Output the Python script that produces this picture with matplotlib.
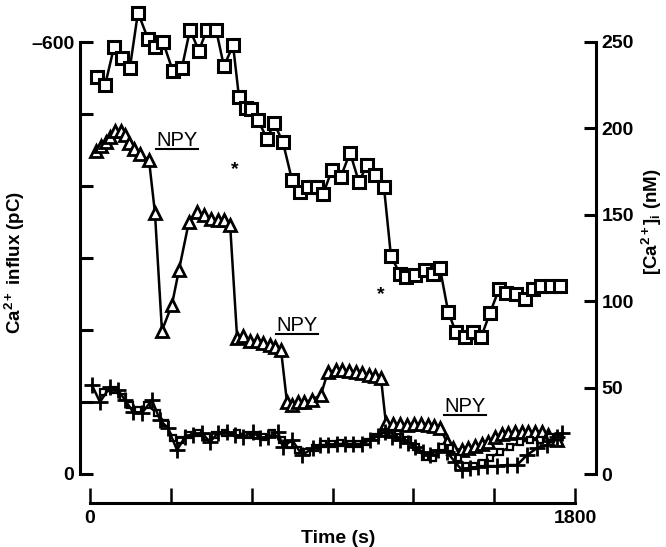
import matplotlib
matplotlib.use("Agg")
import matplotlib.pyplot as plt
from matplotlib.lines import Line2D

plt.rcParams['font.family'] = ['Liberation Sans', 'DejaVu Sans']
plt.rcParams['mathtext.fontset'] = 'custom'
plt.rcParams['mathtext.rm'] = 'Liberation Sans:bold'
plt.rcParams['mathtext.it'] = 'Liberation Sans:bold'
plt.rcParams['mathtext.bf'] = 'Liberation Sans:bold'

# ---- data: [Ca2+]i, squares (nM, right axis) ----
sq_t = [26, 56, 89, 119, 148, 178, 215, 241, 271, 308, 341, 371, 404, 434, 468, 497, 531, 553, 579, 597,
        623, 657, 683, 716, 750, 779, 809, 842, 865, 898, 931, 965, 998, 1028, 1058, 1091, 1117, 1150, 1173, 1206,
        1243, 1273, 1299, 1329, 1358, 1392, 1421, 1451, 1484, 1518, 1544, 1581, 1614, 1644, 1674, 1711, 1744]
sq_nM = [230, 225, 247, 241, 235, 267, 252, 247, 250, 233, 235, 257, 245, 257, 257, 236, 248, 218, 212, 211,
         205, 194, 203, 192, 170, 163, 166, 166, 162, 176, 172, 186, 169, 179, 173, 166, 126, 116, 114, 115,
         118, 116, 119, 94, 82, 79, 82, 79, 93, 107, 105, 104, 101, 107, 109, 109, 109]

# ---- data: Ca2+ influx, triangles (pC, left axis) ----
tri_t = [22, 41, 59, 74, 93, 115, 130, 145, 163, 186, 219, 241, 267, 304, 330, 367, 397, 423, 449, 475,
         497, 520, 546, 568, 594, 620, 642, 668, 687, 709, 731, 750, 772, 794, 824, 857, 883, 913, 935, 961,
         987, 1009, 1035, 1058, 1080, 1098, 1124, 1150, 1176, 1202, 1228, 1254, 1277, 1299, 1325, 1347, 1380,
         1403, 1429, 1455, 1477, 1503, 1529, 1551, 1577, 1603, 1625, 1651, 1677, 1700, 1733]
tri_pC = [-449, -456, -461, -468, -476, -476, -471, -460, -451, -444, -436, -363, -199, -235, -283, -350,
          -364, -360, -354, -353, -353, -346, -189, -192, -185, -185, -182, -179, -176, -172, -100, -96, -100,
          -100, -103, -110, -142, -144, -144, -143, -142, -140, -138, -136, -133, -71, -69, -69, -68, -69, -69,
          -68, -67, -64, -44, -36, -33, -36, -39, -42, -44, -51, -56, -57, -58, -58, -58, -58, -58, -54, -47]

# ---- data: control traces (nM, right axis) ----
plus_t = [7, 37, 74, 104, 130, 160, 193, 230, 260, 289, 323, 353, 382, 416, 445, 475, 508, 538, 568, 605,
          631, 661, 698, 716, 750, 787, 828, 854, 883, 917, 946, 976, 1009, 1039, 1069, 1095, 1121, 1150, 1180,
          1206, 1236, 1262, 1291, 1325, 1355, 1380, 1410, 1440, 1473, 1510, 1548, 1585, 1622, 1659, 1696, 1733, 1752]
plus_nM = [51.5, 41.7, 50.3, 48.6, 42.8, 35.9, 35.3, 42.8, 31.2, 26.6, 13.9, 21.4, 22.6, 23.7, 18.5, 23.7,
           24.3, 22.6, 21.4, 24.3, 20.8, 21.4, 24.3, 15.6, 19.7, 11.0, 15.0, 16.8, 16.8, 17.4, 17.4, 17.4, 17.4,
           19.7, 22.0, 24.3, 21.4, 19.7, 17.9, 15.6, 12.7, 11.0, 13.9, 12.7, 6.9, 2.3, 3.5, 4.1, 4.6, 4.6, 5.2,
           5.2, 11.0, 15.0, 16.8, 21.4, 23.7]

ssq_t = [48, 85, 122, 148, 178, 212, 249, 278, 308, 334, 364, 401, 434, 464, 501, 546, 583, 612, 642, 675,
         712, 742, 772, 805, 835, 865, 898, 928, 965, 995, 1028, 1061, 1091, 1121, 1150, 1180, 1210, 1243, 1273,
         1306, 1336, 1366, 1395, 1425, 1455, 1484, 1522, 1559, 1596, 1633, 1670, 1707, 1737]
ssq_nM = [47.5, 48.6, 44.6, 39.9, 37.0, 39.9, 35.3, 29.5, 20.8, 19.7, 22.6, 23.7, 21.4, 22.6, 23.7, 23.7,
          22.6, 22.6, 21.4, 23.7, 19.7, 16.8, 13.9, 12.7, 15.0, 17.4, 17.4, 17.9, 17.4, 17.4, 18.5, 21.4, 23.7,
          23.7, 21.4, 19.7, 15.6, 9.8, 9.3, 15.6, 15.0, 9.3, 4.6, 4.6, 6.4, 9.3, 12.7, 15.6, 18.5, 19.7, 19.7,
          21.4, 21.4]

left_ticks = [0, -100, -200, -300, -400, -500, -600]
left_labels = ['0', '', '', '', '', '', '\u2013600']
right_ticks = [0, 50, 100, 150, 200, 250]
x_ticks = [0, 300, 600, 900, 1200, 1500, 1800]
x_labels = ['0', '', '', '', '', '', '1800']

W, H = 666, 547
fig = plt.figure(figsize=(W / 100, H / 100), dpi=100)
ax = fig.add_axes([80 / W, 1 - 503 / H, (596 - 80) / W, (503 - 5) / H])
ax2 = ax.twinx()
ax.patch.set_visible(False)

k = 'black'
ax.plot(tri_t, tri_pC, color=k, lw=1.8, marker='^', ms=8, mfc='white', mec=k, mew=2.0, zorder=3)
ax2.plot(ssq_t, ssq_nM, color=k, lw=1.8, marker='s', ms=5, mfc='white', mec=k, mew=1.6, zorder=3)
ax2.plot(plus_t, plus_nM, color=k, lw=1.8, marker='+', ms=11, mew=2.0, zorder=3)
ax2.plot(sq_t, sq_nM, color=k, lw=1.8, marker='s', ms=8, mfc='white', mec=k, mew=2.2, zorder=4)

# scales (pixel-matched)
ax.set_xlim(-37.1, 1877.9)
ax.set_ylim(40.28, -651.4)
ax2.set_ylim(-16.78, 271.4)

for a in (ax, ax2):
    a.spines['top'].set_visible(False)
ax.spines['right'].set_visible(False)
ax2.spines['left'].set_visible(False)
ax2.spines['bottom'].set_visible(False)
ax.spines['left'].set_bounds(-600, 0)
ax2.spines['right'].set_bounds(0, 250)
ax.spines['bottom'].set_bounds(0, 1800)
for s in ('left', 'bottom'):
    ax.spines[s].set_linewidth(2.2)
ax2.spines['right'].set_linewidth(2.2)

ax.set_yticks(left_ticks)
ax.set_yticklabels(left_labels)
ax2.set_yticks(right_ticks)
ax2.set_yticklabels([str(v) for v in right_ticks])
ax.set_xticks(x_ticks)
ax.set_xticklabels(x_labels)

ax.tick_params(axis='y', direction='in', length=9, width=2.2, labelsize=14, pad=4)
ax2.tick_params(axis='y', direction='in', length=9, width=2.2, labelsize=14, pad=4)
ax.tick_params(axis='x', direction='in', length=11, width=1.8, labelsize=14, pad=5)
for lab in ax.get_yticklabels() + ax2.get_yticklabels() + ax.get_xticklabels():
    lab.set_fontweight('bold')

ax.set_xlabel('Time (s)', fontsize=14, fontweight='bold', labelpad=2)
fig.text(15 / W, 1 - 262 / H, r'Ca$^{2+}$ influx (pC)', rotation=90, fontsize=13.5,
         fontweight='bold', ha='center', va='center')
fig.text(652 / W, 1 - 222 / H, r'[Ca$^{2+}$]$_\mathrm{i}$ (nM)', rotation=90, fontsize=13.5,
         fontweight='bold', ha='center', va='center')

# annotations
npy_texts = []
for tx, ty in [(323, 193), (768, 86), (1392, 38.8)]:
    npy_texts.append(ax2.text(tx, ty, 'NPY', fontsize=14.5, ha='center', va='center'))
for tx, ty in [(538, 176), (1080, 103.6)]:
    ax2.text(tx, ty, '*', fontsize=14, fontweight='bold', ha='center', va='center')

# underline the NPY labels, derived from their rendered extents
fig.canvas.draw()
r = fig.canvas.get_renderer()
for t in npy_texts:
    bb = t.get_window_extent(renderer=r)
    y = bb.y0 + 1
    fig.add_artist(Line2D([bb.x0 / W, bb.x1 / W], [y / H, y / H], color=k, lw=1.5,
                          transform=fig.transFigure))

fig.savefig('out.png', dpi=100)
